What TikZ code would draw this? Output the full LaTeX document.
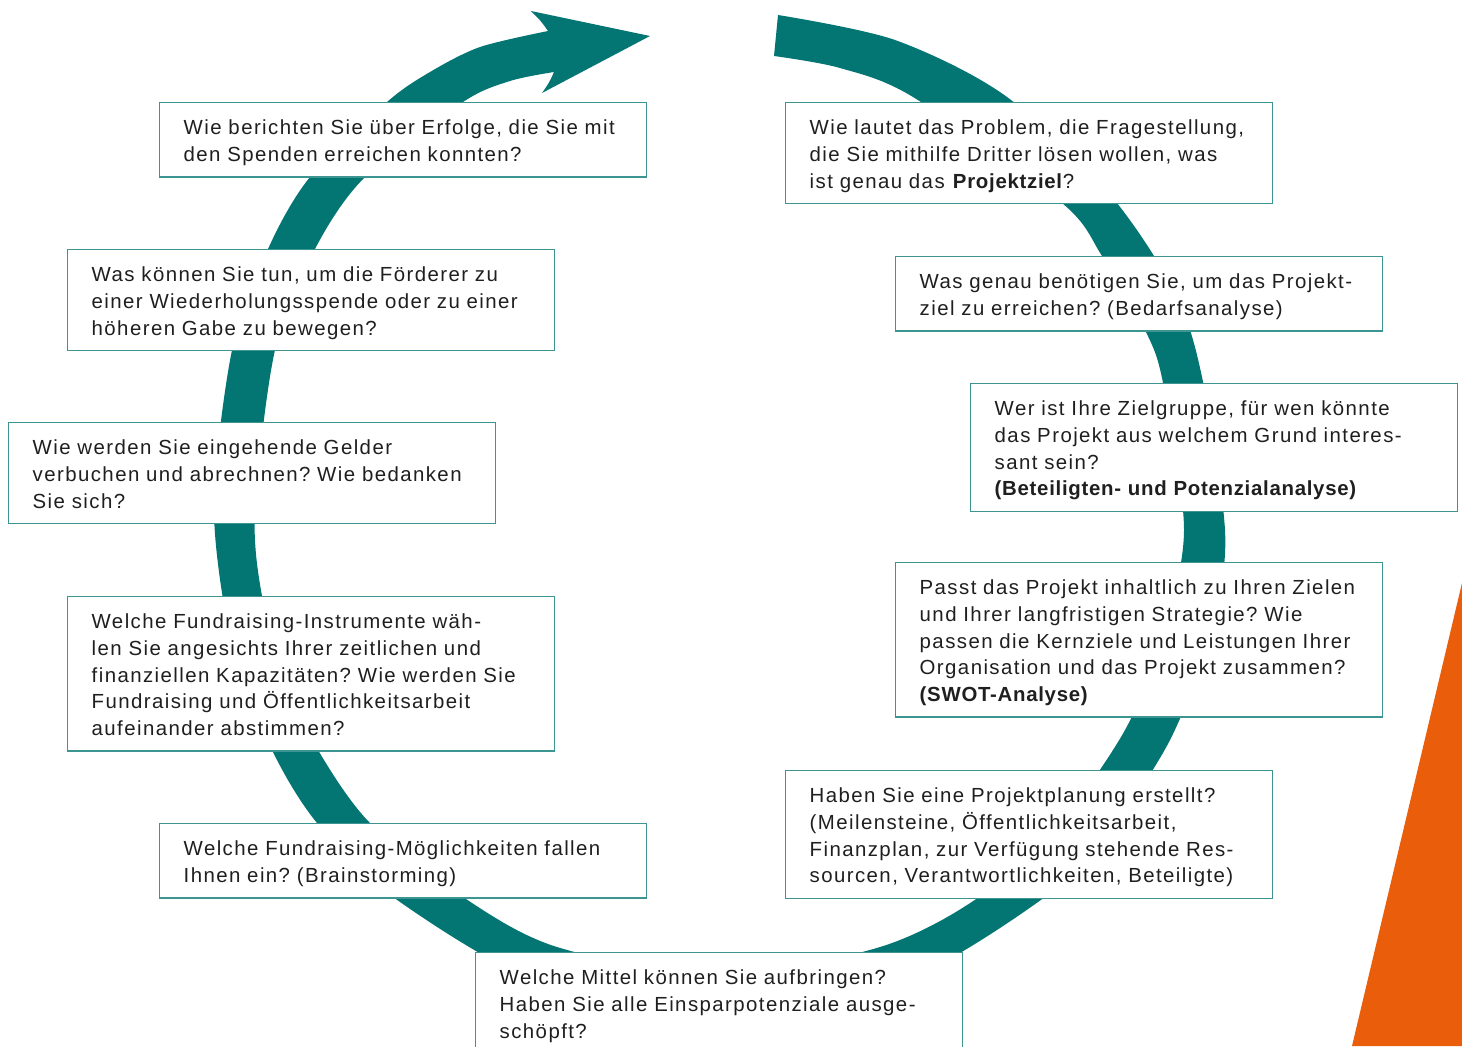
\documentclass[tikz,border=0pt]{standalone}
\usepackage{fontspec}
\setmainfont{Liberation Sans}[LetterSpace=7,BoldFeatures={LetterSpace=3.5}]
\definecolor{petrol}{HTML}{037673}
\definecolor{petrolline}{HTML}{3C9591}
\definecolor{signal}{HTML}{EA5D0B}
\definecolor{ink}{HTML}{1F1F1F}
\newcommand\qstrut{\rule[-2.55pt]{0pt}{13.3pt}}
\frenchspacing

\begin{document}
\begin{tikzpicture}[x=0.5pt,y=-0.5pt,
  qbox/.style={draw=petrolline,line width=0.7pt,fill=white,anchor=north west,
    text width=219.5pt,inner xsep=12pt,inner ysep=5.2pt,align=left,text=ink,
    font=\fontsize{10.2}{13.35}\selectfont,
    execute at begin node=\qstrut,execute at end node=\qstrut}]
  \useasboundingbox (0,0) rectangle (1462,1046);

  % cycle band with arrow head
  \fill[petrol] plot[smooth] coordinates {(778,15) (895,40) (1007,97)
      (1117,203) (1190,330) (1225,530) (1208,640) (1170,740) (1111,830)
      (1045,897) (900,983) (719,1016) (540,983) (393,897) (317,823)
      (272,750) (233,650) (214,510) (232,350) (268,249) (310,177)
      (387,102) (430,72) (480,47) (548,31)}
    .. controls (541,21) .. (531,11) -- (650,36) -- (542,93)
    .. controls (549,83) .. (554,72)
    -- plot[smooth] coordinates {(554,72) (510,81) (463,102) (365,177)
      (315,249) (275,350) (255,510) (262,596) (285,680) (318,750)
      (370,823) (463,897) (557,947) (719,976) (880,947) (979,897)
      (1062,820) (1125,730) (1162,640) (1184,530) (1163,383) (1145,330)
      (1102,256) (1062,203) (913,97) (840,68) (774,56)}
    -- cycle;

  \fill[signal] (1462,583) -- (1462,1046) -- (1352,1046) -- cycle;

  % left side
  \node[qbox] (berichten) at (159,102)
    {Wie berichten Sie über Erfolge, die Sie mit\\den Spenden erreichen konnten?};
  \node[qbox] (binden) at (67,249)
    {Was können Sie tun, um die Förderer zu\\einer Wiederholungsspende oder zu einer\\höheren Gabe zu bewegen?};
  \node[qbox] (verbuchen) at (8,422)
    {Wie werden Sie eingehende Gelder\\verbuchen und abrechnen? Wie bedanken\\Sie sich?};
  \node[qbox] (instrumente) at (67,596)
    {Welche Fundraising-Instrumente wäh-\\len Sie angesichts Ihrer zeitlichen und\\finanziellen Kapazitäten? Wie werden Sie\\Fundraising und Öffentlichkeitsarbeit\\aufeinander abstimmen?};
  \node[qbox] (moeglichkeiten) at (159,823)
    {Welche Fundraising-Möglichkeiten fallen\\Ihnen ein? (Brainstorming)};
  \node[qbox] (mittel) at (475,952)
    {Welche Mittel können Sie aufbringen?\\Haben Sie alle Einsparpotenziale ausge-\\schöpft?};

  % right side
  \node[qbox] (problem) at (785,102)
    {Wie lautet das Problem, die Fragestellung,\\die Sie mithilfe Dritter lösen wollen, was\\ist genau das \textbf{Projektziel}?};
  \node[qbox] (bedarf) at (895,256)
    {Was genau benötigen Sie, um das Projekt-\\ziel zu erreichen? (Bedarfsanalyse)};
  \node[qbox] (zielgruppe) at (970,383)
    {Wer ist Ihre Zielgruppe, für wen könnte\\das Projekt aus welchem Grund interes-\\sant sein?\\\textbf{(Beteiligten- und Potenzialanalyse)}};
  \node[qbox] (strategie) at (895,562)
    {Passt das Projekt inhaltlich zu Ihren Zielen\\und Ihrer langfristigen Strategie? Wie\\passen die Kernziele und Leistungen Ihrer\\Organisation und das Projekt zusammen?\\\textbf{(SWOT-Analyse)}};
  \node[qbox] (planung) at (785,770)
    {Haben Sie eine Projektplanung erstellt?\\(Meilensteine, Öffentlichkeitsarbeit,\\Finanzplan, zur Verfügung stehende Res-\\sourcen, Verantwortlichkeiten, Beteiligte)};
\end{tikzpicture}
\end{document}
